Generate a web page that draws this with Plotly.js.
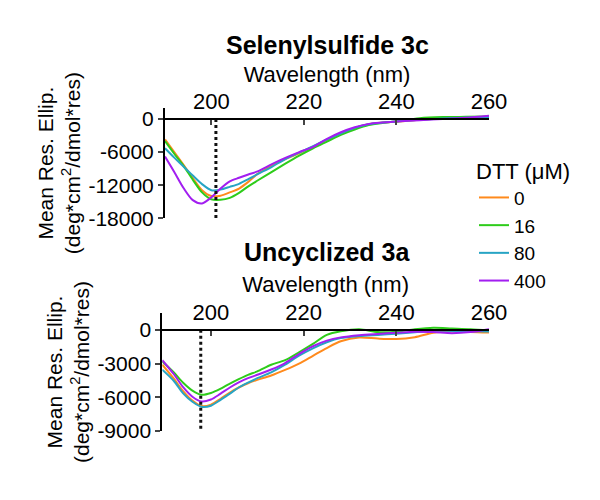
<!DOCTYPE html>
<html>
<head>
<meta charset="utf-8">
<script src="https://cdn.plot.ly/plotly-3.0.1.min.js"></script>
<style>
  html, body { margin: 0; padding: 0; background: #fff; }
  #plot { width: 600px; height: 500px; }
</style>
</head>
<body>
<div id="plot"></div>
<script>
// DTT concentrations (legend) and line colours
var dttLevels = ["0", "16", "80", "400"];
var colors = ["#ff8a1c", "#2ecc1a", "#27a4c4", "#a21ef0"];

// Selenylsulfide 3c
var wlTop = [190, 192, 194, 196, 198, 200, 202, 204, 206, 208, 210, 213, 216, 219, 222, 225, 228, 231, 234, 237, 240, 245, 250, 255, 260];
var top0   = [-3700, -6000, -8300, -10700, -12900, -13950, -13900, -13300, -12600, -11400, -9950, -8500, -7260, -6200, -5000, -3780, -2690, -1600, -950, -650, -480, -150, 100, 250, 400];
var top16  = [-4000, -6300, -8500, -11000, -13300, -14550, -14650, -14300, -13400, -12200, -11150, -9620, -8100, -6640, -5300, -4080, -2860, -1900, -1100, -700, -400, 150, 350, 400, 450];
var top80  = [-5300, -7000, -8600, -10250, -11800, -12900, -12800, -12300, -11750, -10900, -10000, -8700, -7250, -6100, -4900, -3700, -2600, -1600, -950, -650, -450, -150, 100, 250, 350];
var top400 = [-6800, -9600, -12500, -14700, -15300, -14200, -12600, -11300, -10650, -10050, -9500, -8230, -7050, -6000, -5050, -3600, -2400, -1500, -900, -650, -450, -200, 0, 250, 600];

// Uncyclized 3a
var wlBot = [189.5, 192, 194, 196, 198, 200, 202, 204, 206, 208, 210, 213, 216, 219, 222, 225, 228, 232, 236, 240, 244, 248, 252, 256, 260];
var bot0   = [-3100, -4350, -5450, -6300, -6780, -6650, -6150, -5600, -5130, -4750, -4450, -4060, -3560, -3000, -2310, -1620, -1020, -680, -780, -820, -650, -250, -150, -180, -240];
var bot16  = [-2800, -3800, -4700, -5400, -5780, -5620, -5260, -4800, -4380, -4000, -3700, -3100, -2700, -2000, -1250, -450, -130, 50, -200, -170, 50, 180, 120, 60, -60];
var bot80  = [-3550, -4550, -5650, -6400, -6850, -6750, -6250, -5700, -5130, -4700, -4300, -3780, -3100, -2300, -1640, -1100, -730, -550, -450, -350, -220, -80, -100, -120, -150];
var bot400 = [-2700, -3950, -5100, -5950, -6380, -6200, -5700, -5150, -4670, -4300, -4000, -3530, -2950, -2150, -1460, -960, -670, -470, -360, -260, -160, -200, -300, -200, 60];

// wavelength of the minimum marked with a dotted line (top, bottom)
var dipWl = [201, 197.8];
var dipTopY = [0, -18000];
var dipBotY = [0, -9000];

// tick labels
var xTicks = [200, 220, 240, 260];
var yTicksTop = [0, -6000, -12000, -18000];
var yTextTop = ["0", "-6000", "-12000", "-18000"];
var yTicksBot = [0, -3000, -6000, -9000];
var yTextBot = ["0", "-3000", "-6000", "-9000"];

var topSeries = [top0, top16, top80, top400];
var botSeries = [bot0, bot16, bot80, bot400];

var data = [];
topSeries.forEach(function (ys, i) {
  data.push({
    x: wlTop, y: ys, xaxis: "x", yaxis: "y",
    mode: "lines", type: "scatter", name: dttLevels[i],
    line: { color: colors[i], width: 2, shape: "spline", smoothing: 0.8 }
  });
});
botSeries.forEach(function (ys, i) {
  data.push({
    x: wlBot, y: ys, xaxis: "x2", yaxis: "y2",
    mode: "lines", type: "scatter", name: dttLevels[i], showlegend: false,
    line: { color: colors[i], width: 2, shape: "spline", smoothing: 0.8 }
  });
});
data.push({
  x: [dipWl[0], dipWl[0]], y: dipTopY, xaxis: "x", yaxis: "y",
  mode: "lines", showlegend: false, hoverinfo: "skip",
  line: { color: "#111", width: 3, dash: "dot" }
});
data.push({
  x: [dipWl[1], dipWl[1]], y: dipBotY, xaxis: "x2", yaxis: "y2",
  mode: "lines", showlegend: false, hoverinfo: "skip",
  line: { color: "#111", width: 3, dash: "dot" }
});

var font = "Liberation Sans, Arial, sans-serif";
var topRange = [-18000, 2000], botRange = [-9000, 1500];
var topDom = [0.5634, 0.784], botDom = [0.138, 0.374];

// paper position of the y = 0 line, where the x axis sits
function zeroPos(dom, rng) {
  return dom[0] + (0 - rng[0]) / (rng[1] - rng[0]) * (dom[1] - dom[0]);
}

function xAxis(range, dom, pos) {
  return {
    domain: dom, range: range, anchor: "free", position: pos, side: "top",
    tickvals: xTicks, ticks: "inside", ticklen: 5, tickwidth: 2,
    showline: true, linewidth: 2, linecolor: "#000",
    showgrid: false, zeroline: false,
    tickfont: { family: font, size: 22, color: "#000" },
    title: { text: "Wavelength (nm)", font: { family: font, size: 22, color: "#000" }, standoff: 0 }
  };
}
function yAxis(range, dom, anchor, vals, text) {
  return {
    domain: dom, range: range, anchor: anchor,
    tickvals: vals, ticktext: text, ticks: "outside", ticklen: 5, tickwidth: 2,
    showline: true, linewidth: 2, linecolor: "#000",
    showgrid: false, zeroline: false,
    tickfont: { family: font, size: 21, color: "#000" },
    title: {
      text: "Mean Res. Ellip.<br>(deg*cm<sup>2</sup>/dmol*res)",
      font: { family: font, size: 21, color: "#000" }, standoff: 2
    }
  };
}

var layout = {
  width: 600, height: 500,
  margin: { l: 0, r: 0, t: 0, b: 0 },
  paper_bgcolor: "#fff", plot_bgcolor: "rgba(0,0,0,0)",
  font: { family: font, color: "#000" },
  xaxis: xAxis([190, 260], [0.275, 0.815], zeroPos(topDom, topRange)),
  yaxis: yAxis(topRange, topDom, "x", yTicksTop, yTextTop),
  xaxis2: xAxis([189.5, 260], [0.2705, 0.815], zeroPos(botDom, botRange)),
  yaxis2: yAxis(botRange, botDom, "x2", yTicksBot, yTextBot),
  showlegend: true,
  legend: {
    x: 0.79, y: 0.7, xanchor: "left", yanchor: "top",
    bgcolor: "rgba(0,0,0,0)",
    font: { family: font, size: 19, color: "#000" },
    title: { text: "DTT (μM)", font: { family: font, size: 22, color: "#000" } }
  },
  annotations: [
    { text: "<b>Selenylsulfide 3c</b>", xref: "paper", yref: "paper", x: 0.545, y: 0.91,
      xanchor: "center", yanchor: "middle", showarrow: false,
      font: { family: font, size: 25, color: "#000" } },
    { text: "<b>Uncyclized 3a</b>", xref: "paper", yref: "paper", x: 0.545, y: 0.497,
      xanchor: "center", yanchor: "middle", showarrow: false,
      font: { family: font, size: 25, color: "#000" } }
  ]
};

Plotly.newPlot("plot", data, layout, { staticPlot: true });
</script>
</body>
</html>
